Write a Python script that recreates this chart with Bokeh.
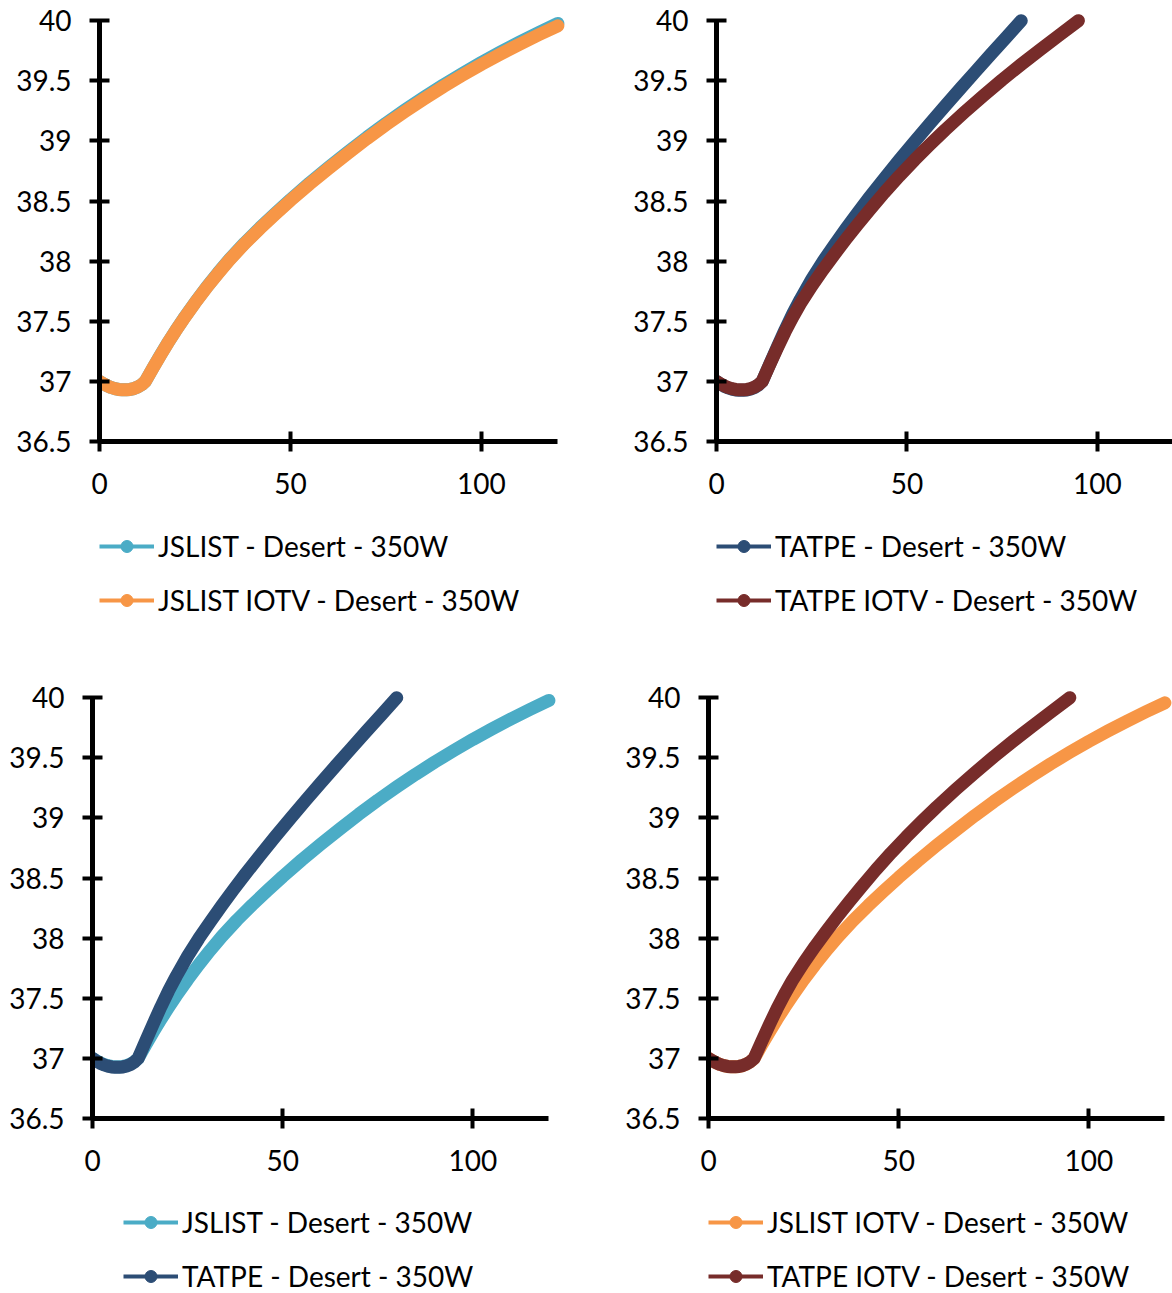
from bokeh.plotting import figure
from bokeh.layouts import column, row
from bokeh.models import Range1d, FixedTicker, NumeralTickFormatter, Legend, LegendItem
from bokeh.embed import file_html
from bokeh.resources import INLINE

# ---- data ----
x_jslist = [0, 1, 2, 3, 4, 5, 6, 7, 8, 9, 10, 11, 12, 14, 16, 18, 20, 22, 25, 28, 31, 34,
            38, 42, 46, 50, 55, 60, 65, 70, 75, 80, 85, 90, 95, 100, 105, 110, 115, 120]
y_jslist = [37.00, 36.98, 36.963, 36.95, 36.94, 36.933, 36.93, 36.93, 36.933, 36.94, 36.953,
            36.972, 37.00, 37.1125, 37.221, 37.326, 37.425, 37.520, 37.655, 37.782, 37.901,
            38.014, 38.151, 38.277, 38.396, 38.512, 38.650, 38.781, 38.907, 39.030, 39.147,
            39.258, 39.364, 39.465, 39.561, 39.653, 39.740, 39.823, 39.902, 39.977]

x_jslist_iotv = [0, 1, 2, 3, 4, 5, 6, 7, 8, 9, 10, 11, 12, 14, 16, 18, 20, 22, 25, 28, 31, 34,
                 38, 42, 46, 50, 55, 60, 65, 70, 75, 80, 85, 90, 95, 100, 105, 110, 115, 120]
y_jslist_iotv = [37.00, 36.98, 36.963, 36.95, 36.94, 36.933, 36.93, 36.93, 36.933, 36.94,
                 36.953, 36.972, 37.00, 37.112, 37.220, 37.325, 37.424, 37.518, 37.653,
                 37.779, 37.897, 38.010, 38.146, 38.271, 38.390, 38.505, 38.642, 38.772,
                 38.897, 39.019, 39.135, 39.245, 39.350, 39.451, 39.546, 39.637, 39.723,
                 39.805, 39.883, 39.957]

x_tatpe = [0, 1, 2, 3, 4, 5, 6, 7, 8, 9, 10, 11, 12, 14, 16, 18, 20, 22, 25, 28, 31, 34,
           37, 40, 44, 48, 52, 56, 60, 64, 68, 72, 76, 80]
y_tatpe = [37.00, 36.978, 36.96, 36.946, 36.936, 36.929, 36.926, 36.926, 36.929, 36.937,
           36.95, 36.97, 37.00, 37.146, 37.29, 37.43, 37.562, 37.682, 37.85, 38.00, 38.138,
           38.2715, 38.4005, 38.525, 38.6857, 38.8424, 38.9951, 39.1438, 39.2905, 39.4352,
           39.5779, 39.7194, 39.86, 40.00]

x_tatpe_iotv = [0, 1, 2, 3, 4, 5, 6, 7, 8, 9, 10, 11, 12, 14, 16, 18, 20, 22, 25, 28, 31,
                34, 37, 40, 44, 48, 52, 56, 60, 65, 70, 75, 80, 85, 90, 95]
y_tatpe_iotv = [37.00, 36.98, 36.963, 36.95, 36.94, 36.933, 36.93, 36.93, 36.933, 36.94,
                36.953, 36.972, 37.00, 37.142, 37.28, 37.412, 37.534, 37.646, 37.794, 37.930,
                38.059, 38.183, 38.303, 38.419, 38.568, 38.709, 38.842, 38.969, 39.091,
                39.236, 39.375, 39.509, 39.637, 39.760, 39.880, 40.00]

x_ticks = [0, 50, 100]
y_ticks = [36.5, 37, 37.5, 38, 38.5, 39, 39.5, 40]

C_JSLIST = "#4BACC6"
C_JSLIST_IOTV = "#F79646"
C_TATPE = "#2C4D75"
C_TATPE_IOTV = "#772C2A"

FONT = "Lato"
FSIZE = "28px"

series = {
    "JSLIST - Desert - 350W": (x_jslist, y_jslist, C_JSLIST),
    "JSLIST IOTV - Desert - 350W": (x_jslist_iotv, y_jslist_iotv, C_JSLIST_IOTV),
    "TATPE - Desert - 350W": (x_tatpe, y_tatpe, C_TATPE),
    "TATPE IOTV - Desert - 350W": (x_tatpe_iotv, y_tatpe_iotv, C_TATPE_IOTV),
}


def chart(names, height, left, top, right, xend, width=586):
    p = figure(width=width, height=height, output_backend="svg", toolbar_location=None,
               x_range=Range1d(0, xend), y_range=Range1d(36.5, 40.06),
               min_border_left=left, min_border_top=top, min_border_right=right,
               min_border_bottom=height - top - 428)
    p.outline_line_color = None
    p.xgrid.visible = False
    p.ygrid.visible = False
    for nm in names:
        xs, ys, col = series[nm]
        p.line(xs, ys, line_color=col, line_width=13, line_cap="round", line_join="round")
    for ax in (p.xaxis[0], p.yaxis[0]):
        ax.axis_line_width = 5
        ax.axis_line_color = "black"
        ax.major_tick_line_width = 4
        ax.major_tick_line_color = "black"
        ax.major_tick_in = 10
        ax.major_tick_out = 10
        ax.minor_tick_line_color = None
        ax.major_label_text_font = FONT
        ax.major_label_text_font_size = FSIZE
        ax.major_label_text_color = "black"
    p.xaxis.ticker = FixedTicker(ticks=x_ticks)
    p.yaxis.ticker = FixedTicker(ticks=y_ticks)
    p.yaxis.formatter = NumeralTickFormatter(format="0.[0]")
    p.yaxis.bounds = (36.5, 40)
    p.xaxis.bounds = (0, min(120, xend))
    p.xaxis.major_label_standoff = 21
    p.yaxis.major_label_standoff = 18
    return p


def legend_fig(names, height, x0, y0, width=586):
    f = figure(width=width, height=height, output_backend="svg", toolbar_location=None,
               x_range=Range1d(0, 1), y_range=Range1d(0, 1),
               x_axis_location=None, y_axis_location=None,
               min_border=0, min_border_left=0, min_border_right=0,
               min_border_top=0, min_border_bottom=0)
    f.grid.visible = False
    f.outline_line_color = None
    items = []
    for nm in names:
        col = series[nm][2]
        lr = f.line([-5, -4], [-5, -5], line_color=col, line_width=4)
        sr = f.scatter([-5], [-5], size=16, fill_color=col, line_color=col)
        items.append(LegendItem(label=nm, renderers=[lr, sr]))
    leg = Legend(items=items, location=(x0, y0), orientation="vertical",
                 label_text_font=FONT, label_text_font_size=FSIZE,
                 label_text_color="black",
                 glyph_width=55, glyph_height=30, label_height=30, label_standoff=4,
                 spacing=20, padding=0, margin=0,
                 border_line_color=None, background_fill_alpha=0)
    f.add_layout(leg, "center")
    return f


n1 = ["JSLIST - Desert - 350W", "JSLIST IOTV - Desert - 350W"]
n2 = ["TATPE - Desert - 350W", "TATPE IOTV - Desert - 350W"]
n3 = ["JSLIST - Desert - 350W", "TATPE - Desert - 350W"]
n4 = ["JSLIST IOTV - Desert - 350W", "TATPE IOTV - Desert - 350W"]

p1 = chart(n1, 506, 99, 13, 21, 122)
p2 = chart(n2, 506, 130, 13, 0, 119.7)
p3 = chart(n3, 523, 92, 30, 30, 122)
p4 = chart(n4, 523, 122, 30, 0, 122)

# legend frames are aligned with the chart frames above them
l1 = legend_fig(n1, 154, 0, 43)
l2 = legend_fig(n2, 154, 0, 43)
l3 = legend_fig(n3, 110, 31, 0)
l4 = legend_fig(n4, 110, 0, 0)

layout = column(row(column(p1, l1), column(p2, l2)), row(column(p3, l3), column(p4, l4)))
open("out.html", "w").write(file_html(layout, INLINE))
